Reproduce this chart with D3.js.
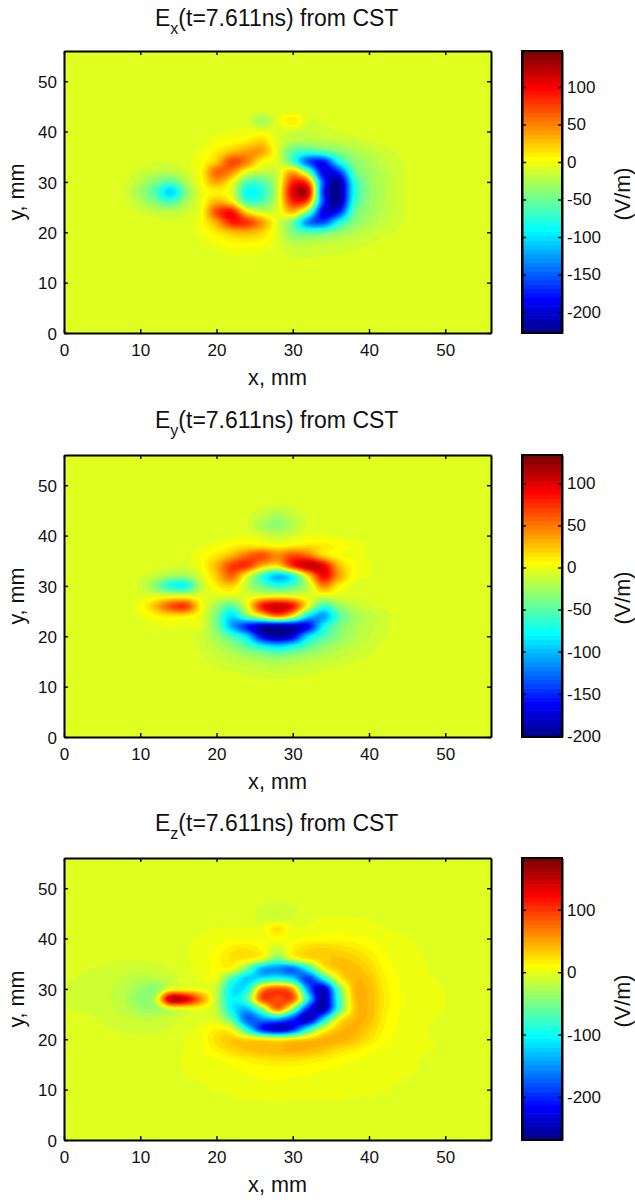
<!DOCTYPE html>
<meta charset="utf-8">
<title>E field components from CST</title>
<style>
body { margin: 0; background: #fff; }
svg text { font-family: "Liberation Sans", Arial, sans-serif; fill: #111; }
</style>
<svg width="635" height="1202"></svg>
<script src="https://d3js.org/d3.v7.min.js"></script>
<script>

// field samples, V/m relative to the far field, every 2 mm
var exX = d3.range(6, 47, 2),
    exY = d3.range(44, 13, -2),
    exRows = [
  [0,0,0,0,0,0,0,0,0,0,-3,0,2,0,0,0,0,0,0,0,0],
  [0,0,0,0,0,0,0,0,0,0,-22,3,20,-2,-2,0,0,0,0,0,0],
  [0,0,0,0,0,0,0,2,4,5,6,0,-5,-8,-6,-3,-1,0,0,0,0],
  [0,0,0,0,0,0,1,8,12,18,28,0,-15,-18,-15,-12,-8,-4,-1,0,0],
  [0,0,0,0,0,0,6,18,35,48,45,0,-50,-62,-50,-35,-20,-12,-6,-2,0],
  [0,0,0,-3,-3,1,10,32,80,58,12,0,-55,-145,-170,-80,-35,-20,-10,-4,0],
  [0,0,-6,-12,-14,-4,12,68,55,3,-10,-5,40,-40,-185,-160,-50,-25,-13,-5,0],
  [0,-2,-15,-35,-50,-18,10,45,12,-50,-50,-8,90,70,-150,-215,-75,-28,-15,-5,-1],
  [-1,-4,-25,-55,-100,-35,3,15,0,-80,-68,-8,115,118,-160,-222,-80,-30,-15,-5,-1],
  [0,-2,-15,-35,-55,-20,5,40,20,-55,-50,-4,90,65,-150,-215,-70,-28,-15,-5,-1],
  [0,0,-4,-10,-12,-6,8,80,102,25,-5,0,35,-40,-185,-165,-50,-25,-13,-5,0],
  [0,0,0,0,-2,0,10,45,95,88,48,0,-40,-130,-150,-80,-35,-20,-10,-4,0],
  [0,0,0,0,0,0,6,20,35,40,28,0,-35,-50,-45,-30,-18,-10,-5,-2,0],
  [0,0,0,0,0,0,2,8,14,15,12,0,-15,-15,-13,-10,-7,-4,-1,0,0],
  [0,0,0,0,0,0,0,2,5,6,4,0,-6,-6,-5,-4,-2,0,0,0,0],
  [0,0,0,0,0,0,0,0,0,0,0,0,-1,-1,0,0,0,0,0,0,0]
];

var eyX = d3.range(8, 45, 2),
    eyY = d3.range(46, 11, -2),
    eyRows = [
  [0,0,0,0,0,0,0,0,0,-2,-3,-2,0,0,0,0,0,0,0],
  [0,0,0,0,0,0,0,0,-2,-8,-18,-8,-1,0,0,0,0,0,0],
  [0,0,0,0,0,0,0,0,-2,-18,-26,-15,-1,0,0,0,0,0,0],
  [0,0,0,0,0,0,0,2,3,-2,-8,-3,4,4,2,0,0,0,0],
  [0,0,0,0,0,2,6,12,18,15,10,15,20,16,12,6,2,0,0],
  [0,0,0,0,1,8,18,35,60,70,50,70,60,25,10,5,2,0,0],
  [0,0,0,-2,-2,8,35,75,78,35,20,80,115,100,35,10,3,0,0],
  [0,-2,-8,-20,-20,0,28,62,5,-55,-95,-65,20,95,45,8,3,0,0],
  [0,-5,-30,-65,-68,-12,15,25,-12,-40,-60,-45,-12,50,15,2,0,0,0],
  [0,0,1,2,2,1,0,0,0,5,8,5,0,0,0,-1,-1,0,0],
  [0,8,32,68,75,12,-20,-45,5,88,112,88,8,-55,-25,-10,-4,-1,0],
  [0,3,12,18,15,3,-35,-85,-35,8,50,8,-80,-105,-50,-22,-12,-5,-1],
  [0,0,2,4,3,0,-35,-100,-150,-180,-190,-180,-160,-75,-35,-18,-10,-4,0],
  [0,0,0,0,0,-6,-22,-50,-85,-165,-190,-165,-85,-50,-30,-15,-8,-3,0],
  [0,0,0,0,0,-4,-13,-25,-45,-70,-85,-70,-45,-28,-17,-10,-5,-1,0],
  [0,0,0,0,0,-2,-7,-12,-18,-25,-30,-25,-18,-13,-9,-5,-2,0,0],
  [0,0,0,0,0,0,-3,-6,-8,-10,-12,-10,-8,-6,-3,-1,0,0,0],
  [0,0,0,0,0,0,0,0,-2,-3,-4,-3,-2,0,0,0,0,0,0]
];

var ezX = d3.range(0, 55, 2),
    ezY = d3.range(46, 7, -2),
    ezRows = [
  [0,0,0,0,0,0,0,0,0,0,0,0,0,-5,-8,-5,0,0,0,0,0,0,0,0,0,0,0,0],
  [0,0,0,0,0,0,0,0,0,0,0,0,0,-6,-8,-3,2,4,5,4,3,1,0,0,0,0,0,0],
  [0,0,0,0,0,0,0,0,0,2,4,4,4,6,26,6,5,7,8,7,6,4,2,0,0,0,0,0],
  [0,0,0,0,0,0,0,0,2,5,7,8,8,8,14,8,13,14,15,13,10,7,5,3,1,0,0,0],
  [0,0,0,0,0,0,0,0,3,6,11,22,25,14,-8,18,30,33,30,25,17,10,6,4,2,0,0,0],
  [0,0,0,-2,-3,-3,-2,0,3,6,15,26,22,5,-45,2,24,36,40,35,25,13,7,5,3,0,0,0],
  [-1,-2,-4,-5,-7,-8,-7,-3,2,6,12,10,-50,-135,-150,-165,-90,10,38,44,32,16,8,6,3,1,0,0],
  [-3,-4,-6,-8,-12,-18,-16,-8,2,4,5,-70,-120,-100,-85,-110,-190,-100,10,44,40,20,10,6,4,2.5,0,0],
  [-4,-5,-7,-10,-16,-30,-38,5,10,6,-15,-105,-95,55,90,50,-150,-240,-60,42,44,22,11,7,5,3.4,1,0],
  [-4,-5,-7,-10,-18,-35,-12,155,140,65,-15,-100,-60,92,92,88,-100,-250,-80,38,45,24,12,8,5,3.6,1,0],
  [-3,-4,-5,-9,-15,-28,-30,-4,6,6,-15,-100,-130,-40,75,-35,-200,-245,-80,35,45,22,11,7,5,3.4,1,0],
  [-1,-2,-3,-6,-9,-12,-12,-6,0,2,-5,-60,-170,-150,-140,-190,-245,-120,10,44,44,20,10,6,4,2.5,0,0],
  [0,0,-1,-3,-5,-6,-6,-3,1,6,20,5,-90,-200,-240,-200,-90,0,40,48,35,17,9,6,3,1,0,0],
  [0,0,0,0,-1,-2,-1,0,4,10,28,38,30,20,10,22,35,48,50,42,26,13,8,6,4,2,0,0],
  [0,0,0,0,0,0,0,0,4,9,20,32,40,43,45,48,46,40,30,22,13,8,6,5,4,1,0,0],
  [0,0,0,0,0,0,0,1,5,7,10,15,20,25,27,27,24,20,15,11,8,6,5,4,2,0,0,0],
  [0,0,0,0,0,0,0,0,4,5,7,9,12,14,15,14,13,11,9,8,6,5,5,4,1,0,0,0],
  [0,0,0,0,0,0,0,0,3,4,5,6,8,10,11,10,9,8,7,6,5,5,4,2,0,0,0,0],
  [0,0,0,0,0,0,0,0,0,2,4,5,6,7,7,7,6,6,5,5,5,4,2,0,0,0,0,0],
  [0,0,0,0,0,0,0,0,0,0,0,3,4,4,5,4,4,4,4,3,2,0,0,0,0,0,0,0]
];

var names = ["x", "y", "z"],
    colorRanges = [[-228, 148], [-201.6, 133.8], [-269, 183]],
    farField = [-7.7, -5.1, -4.2],
    colorTicks = [
      [-200, -150, -100, -50, 0, 50, 100],
      [-200, -150, -100, -50, 0, 50, 100],
      [-200, -100, 0, 100]
    ],
    axisTicks = [0, 10, 20, 30, 40, 50],
    timeLabel = "(t=7.611ns) from CST";

var fieldX = [exX, eyX, ezX],
    fieldY = [exY, eyY, ezY],
    fieldRows = [exRows, eyRows, ezRows];

var svg = d3.select("svg");

var plotTops = [51, 455, 858],
    titleBase = [26, 428, 831],
    plotHeight = 282,
    plotLeft = 64,
    plotRight = 491,
    barLeft = 522,
    barRight = 562,
    levels = d3.range(64),
    extent = 56,
    fine = 8;

var x = d3.scaleLinear().domain([0, extent]).range([plotLeft, plotRight]);

// same table as matlab's jet(64)
function ramp(p) {
  if (p < 1 || p > 47) return 0;
  if (p <= 16) return p / 16;
  if (p <= 31) return 1;
  return (48 - p) / 16;
}
function jet(i) {
  var k = i + 1;
  return d3.rgb(255 * ramp(k - 24), 255 * ramp(k - 8), 255 * ramp(k + 8)).formatHex();
}

function catmull(a, b, c, d, t) {
  return 0.5 * (2 * b + (c - a) * t + (2 * a - 5 * b + 4 * c - d) * t * t + (3 * b - a - 3 * c + d) * t * t * t);
}

// puts the samples on the whole 0-56 mm grid, then refines it for the contours
function fineField(xs, ys, rows, base, lo, hi) {
  var coarse = d3.range(29).map(function() { return d3.range(29).map(function() { return base; }); });
  rows.forEach(function(row, r) {
    row.forEach(function(v, c) {
      coarse[(extent - ys[r]) / 2][xs[c] / 2] = v + base;
    });
  });
  var n = 28 * fine + 1, out = new Float64Array(n * n);
  function at(j, i) {
    return coarse[Math.max(0, Math.min(28, j))][Math.max(0, Math.min(28, i))];
  }
  for (var j = 0; j < n; j++) {
    var j0 = Math.floor(j / fine), tj = j / fine - j0;
    for (var i = 0; i < n; i++) {
      var i0 = Math.floor(i / fine), ti = i / fine - i0;
      var col = [-1, 0, 1, 2].map(function(d) {
        return catmull(at(j0 + d, i0 - 1), at(j0 + d, i0), at(j0 + d, i0 + 1), at(j0 + d, i0 + 2), ti);
      });
      // overshoot must not punch holes in the lowest level
      out[j * n + i] = Math.max(lo + 0.01, Math.min(hi, catmull(col[0], col[1], col[2], col[3], tj)));
    }
  }
  return {n: n, values: out};
}

names.forEach(function(name, p) {
  var top = plotTops[p],
      bottom = top + plotHeight,
      y = d3.scaleLinear().domain([0, extent]).range([bottom, top]),
      lo = colorRanges[p][0],
      hi = colorRanges[p][1],
      step = (hi - lo) / 64;

  var field = fineField(fieldX[p], fieldY[p], fieldRows[p], farField[p], lo, hi);

  var contours = d3.contours()
      .size([field.n, field.n])
      .thresholds(levels.map(function(i) { return lo + i * step; }))(field.values);

  // contour coordinates are grid cells, y running down from 56 mm
  var path = d3.geoPath(d3.geoTransform({
    point: function(cx, cy) {
      this.stream.point(x((cx - 0.5) / fine * 2), y(extent - (cy - 0.5) / fine * 2));
    }
  }));

  svg.append("clipPath").attr("id", "clip" + p)
    .append("rect")
      .attr("x", plotLeft).attr("y", top)
      .attr("width", plotRight - plotLeft).attr("height", plotHeight);

  svg.append("g").attr("clip-path", "url(#clip" + p + ")")
    .selectAll("path")
    .data(contours)
    .enter().append("path")
      .attr("d", path)
      .attr("fill", function(d, i) { return jet(i); });

  // axes, ticks point inward on all four sides
  svg.append("g")
      .attr("transform", "translate(0," + bottom + ")")
      .call(d3.axisBottom(x).tickValues(axisTicks).tickSize(-4).tickSizeOuter(0).tickPadding(11));
  var leftAxis = svg.append("g")
      .attr("transform", "translate(" + plotLeft + ",0)")
      .call(d3.axisLeft(y).tickValues(axisTicks).tickSize(-4).tickSizeOuter(0).tickPadding(7));
  svg.append("g")
      .attr("transform", "translate(0," + top + ")")
      .call(d3.axisTop(x).tickValues(axisTicks).tickSize(-4).tickSizeOuter(0).tickFormat(""));
  svg.append("g")
      .attr("transform", "translate(" + plotRight + ",0)")
      .call(d3.axisRight(y).tickValues(axisTicks).tickSize(-4).tickSizeOuter(0).tickFormat(""));

  // colour bar
  var barBand = d3.scaleBand().domain(levels).range([bottom, top]),
      barScale = d3.scaleLinear().domain([lo, hi]).range([bottom, top]);

  svg.append("g").selectAll("rect")
    .data(levels)
    .enter().append("rect")
      .attr("x", barLeft)
      .attr("y", function(d) { return barBand(d) - 0.3; })
      .attr("width", barRight - barLeft)
      .attr("height", barBand.bandwidth() + 0.6)
      .attr("fill", function(d) { return jet(d); });

  svg.append("g")
      .attr("transform", "translate(" + barRight + ",0)")
      .call(d3.axisRight(barScale).tickValues(colorTicks[p]).tickSize(-4).tickSizeOuter(0).tickPadding(5).tickFormat(String));
  svg.append("g")
      .attr("transform", "translate(" + barLeft + ",0)")
      .call(d3.axisLeft(barScale).tickValues(colorTicks[p]).tickSize(-4).tickSizeOuter(0).tickFormat(""));
  svg.append("rect")
      .attr("x", barLeft).attr("y", top)
      .attr("width", barRight - barLeft).attr("height", plotHeight)
      .attr("fill", "none").attr("stroke", "#000").attr("stroke-width", 2);

  svg.selectAll("g .domain").attr("stroke", "#000").attr("stroke-width", 2);
  svg.selectAll("g .tick line").attr("stroke", "#000").attr("stroke-width", 1.4);
  svg.selectAll("g .tick text").attr("font-size", 17);
  leftAxis.selectAll(".tick text").attr("dy", "0.36em");

  // labels
  svg.append("text")
      .attr("x", (plotLeft + plotRight) / 2)
      .attr("y", bottom + 52)
      .attr("text-anchor", "middle")
      .attr("font-size", 21.6)
      .text("x, mm");
  svg.append("text")
      .attr("transform", "translate(24," + (top + plotHeight / 2) + ") rotate(-90)")
      .attr("text-anchor", "middle")
      .attr("font-size", 21.6)
      .text("y, mm");
  svg.append("text")
      .attr("transform", "translate(630," + (top + plotHeight / 2 + 2) + ") rotate(-90)")
      .attr("text-anchor", "middle")
      .attr("font-size", 21.6)
      .text("(V/m)");

  var title = svg.append("text")
      .attr("x", 155)
      .attr("y", titleBase[p])
      .attr("font-size", 23);
  title.append("tspan").text("E");
  title.append("tspan").attr("font-size", 16).attr("dy", 8).text(name);
  title.append("tspan").attr("dy", -8).text(timeLabel);
});

</script>
